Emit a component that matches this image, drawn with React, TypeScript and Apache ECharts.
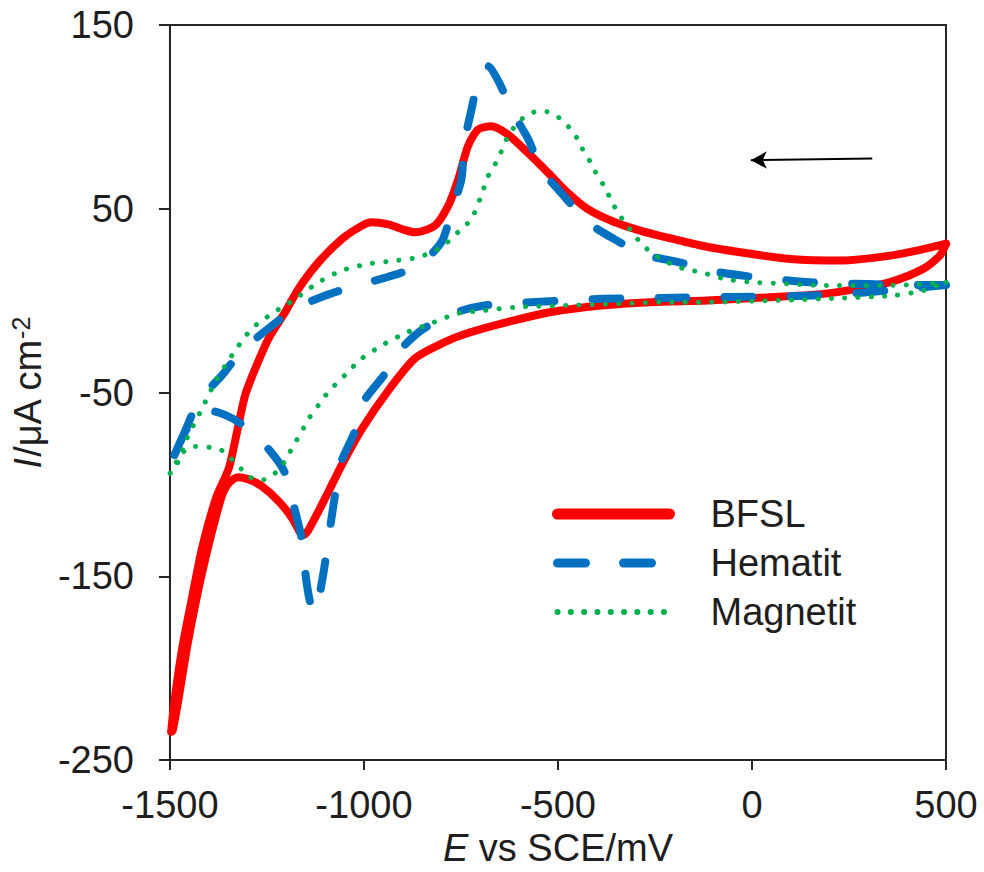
import React, { useEffect, useRef } from 'react';
import * as echarts from 'echarts';

const FONT = '"Liberation Sans", Arial, Helvetica, sans-serif';
const INK = '#1e1e1e';

const X_TICKS = [-1500, -1000, -500, 0, 500];
const Y_TICKS = [-250, -150, -50, 50, 150];

const SERIES_NAMES = ['BFSL', 'Hematit', 'Magnetit'];
const SERIES_COLORS = ['#ff0000', '#0070c0', '#00b050'];

// BFSL: scan from +500 towards -1500 (upper branch), then back (lower branch)
const BFSL_FORWARD = [
  [500, 31], [441, 28], [356, 24.5], [227, 21.8], [99, 22.7], [-30, 26.3], [-132, 30],
  [-218, 34.3], [-286, 38], [-355, 42.8], [-423, 49.8], [-475, 58.8], [-526, 69.7],
  [-578, 80.5], [-629, 90.4], [-672, 94.9], [-706, 93.1], [-732, 84.1], [-757, 66],
  [-783, 51.6], [-818, 40.7], [-869, 37.2], [-903, 39], [-937, 41.5], [-980, 42.6],
  [-1006, 40.7], [-1057, 33.5], [-1117, 20.9], [-1169, 6.4], [-1203, -6.2], [-1246, -20.6],
  [-1280, -36.9], [-1306, -51.3], [-1327, -71.2], [-1348, -91], [-1381, -107.3],
  [-1417, -134.4], [-1443, -161.5], [-1468, -188.6], [-1487, -215.6], [-1497, -234.6],
];
const BFSL_RETURN = [
  [-1493, -234], [-1477, -215.6], [-1456, -188.6], [-1431, -161.5], [-1402, -134.4],
  [-1368, -107.3], [-1355, -101], [-1338, -97.3], [-1323, -96.1], [-1295, -97.5],
  [-1263, -101], [-1220, -109.1], [-1186, -118.1], [-1164, -126.3], [-1155, -127.5],
  [-1126, -118.1], [-1091, -103.7], [-1057, -89.3], [-1006, -70], [-937, -48.8],
  [-869, -31.5], [-809, -24.3], [-749, -18.8], [-646, -12.5], [-518, -6.2], [-389, -2.6],
  [-261, -0.8], [-115, 0.1], [56, 2], [184, 3.7], [270, 6.4], [356, 10.1], [441, 17.3],
  [484, 24.5], [500, 31],
];

const HEMATIT_FORWARD = [
  [500, 8.5], [420, 8.5], [300, 9], [150, 10], [0, 13], [-100, 16], [-190, 21], [-278, 25],
  [-355, 33.5], [-423, 42.6], [-484, 56.8], [-543, 71.5], [-577, 88], [-621, 104],
  [-650, 118], [-680, 127.5], [-705, 120], [-723, 104], [-741, 86], [-749, 66], [-775, 48],
  [-800, 32], [-860, 19], [-937, 13], [-1024, 8], [-1101, 2.7], [-1178, -4.4],
  [-1245, -15], [-1314, -27], [-1366, -40.7], [-1425, -54.2], [-1461, -71], [-1494, -87],
  [-1500, -90],
];
const HEMATIT_RETURN = [
  [-1500, -90], [-1465, -73], [-1430, -62], [-1404, -59.6], [-1360, -62], [-1319, -66.7],
  [-1255, -78.6], [-1206, -92.7], [-1181, -111.6], [-1160, -130], [-1150, -150],
  [-1140, -163], [-1128, -170], [-1118, -164], [-1110, -155], [-1101, -143.6],
  [-1088, -124.6], [-1075, -106.2], [-1062, -89.5], [-1023, -71], [-1000, -54.8],
  [-949, -40.7], [-903, -26], [-846, -15.2], [-757, -6], [-690, -2.6], [-600, -1.2],
  [-385, 1], [-230, 1.5], [-50, 2], [120, 2.5], [290, 4.5], [400, 6.5], [500, 8.5],
];

const MAGNETIT_FORWARD = [
  [500, 10], [399, 8.6], [296, 8.2], [193, 8.2], [90, 9.2], [-4, 10.1], [-73, 12],
  [-132, 15.5], [-175, 17.3], [-218, 20.9], [-261, 26.3], [-295, 33.5], [-321, 40.7],
  [-346, 48], [-364, 55.2], [-381, 62.4], [-398, 67.8], [-415, 75], [-432, 80.5],
  [-449, 87.7], [-466, 93.1], [-492, 98.5], [-518, 102.5], [-552, 103], [-578, 101.3],
  [-603, 96.8], [-629, 89.5], [-655, 76.9], [-680, 67.8], [-698, 57], [-723, 44.4],
  [-749, 39], [-800, 29.3], [-860, 23.6], [-920, 21.8], [-989, 20], [-1057, 16.4],
  [-1117, 10], [-1177, 1], [-1237, -7.1], [-1289, -15.2], [-1340, -29.7], [-1383, -44.1],
  [-1417, -58.6], [-1456, -74.8], [-1486, -91], [-1500, -94],
];
const MAGNETIT_RETURN = [
  [-1500, -94], [-1468, -82.9], [-1443, -79.3], [-1396, -79.9], [-1361, -82],
  [-1340, -86.5], [-1314, -92], [-1289, -96.5], [-1258, -97.4], [-1229, -93.8],
  [-1207, -88.3], [-1190, -82], [-1173, -75.7], [-1156, -69.4], [-1139, -63.1],
  [-1117, -56.8], [-1091, -49.5], [-1049, -40.5], [-1006, -31.5], [-946, -23.4],
  [-886, -17], [-818, -11.6], [-760, -7], [-689, -5.3], [-603, -3.5], [-475, -2.6],
  [-346, -1.7], [-218, -0.8], [-115, -0.8], [56, 0.1], [227, 1.4], [365, 2.8],
  [441, 5.5], [500, 10],
];

// scan-direction arrow (tip, tail) in data coordinates
const ARROW = [[-3, 76.4], [310, 77.3]];

export default function App() {
  const ref = useRef<HTMLDivElement>(null);

  useEffect(() => {
    if (!ref.current) return;
    const chart = echarts.init(ref.current, null, { renderer: 'svg' });

    const labelStyle = { fontSize: 38, fontFamily: FONT, color: INK };
    const plain = (v: number) => String(v);

    const option: any = {
      animation: false,
      backgroundColor: '#ffffff',
      grid: {
        left: 168, right: 38, top: 25, bottom: 109,
        show: true, borderColor: '#262626', borderWidth: 2, backgroundColor: 'transparent',
      },
      legend: {
        orient: 'vertical',
        left: 547,
        top: 490,
        itemWidth: 112,
        itemHeight: 12,
        itemGap: 11,
        selectedMode: false,
        itemStyle: { opacity: 0 },
        textStyle: { fontSize: 38, fontFamily: FONT, color: INK, lineHeight: 38, padding: [0, 0, 0, 36] },
        data: [
          { name: SERIES_NAMES[0], lineStyle: { width: 11 } },
          { name: SERIES_NAMES[1], lineStyle: { width: 9 } },
          { name: SERIES_NAMES[2], lineStyle: { width: 6 } },
        ],
      },
      xAxis: {
        type: 'value',
        min: X_TICKS[0],
        max: X_TICKS[X_TICKS.length - 1],
        interval: 500,
        splitLine: { show: false },
        axisLine: { show: true, onZero: false, lineStyle: { color: '#262626', width: 2 } },
        axisTick: { show: true, inside: false, length: 10, lineStyle: { color: '#262626', width: 2 } },
        axisLabel: { ...labelStyle, margin: 26, showMinLabel: true, showMaxLabel: true, formatter: plain },
        name: '{i|E}{n| vs SCE/mV}',
        nameLocation: 'middle',
        nameGap: 66,
        nameTextStyle: {
          rich: {
            i: { ...labelStyle, fontStyle: 'italic' },
            n: { ...labelStyle },
          },
        },
      },
      yAxis: {
        type: 'value',
        min: Y_TICKS[0],
        max: Y_TICKS[Y_TICKS.length - 1],
        splitLine: { show: false },
        axisLine: { show: true, onZero: false, lineStyle: { color: '#262626', width: 2 } },
        axisTick: {
          show: true, inside: false, length: 11, customValues: Y_TICKS,
          lineStyle: { color: '#262626', width: 2 },
        },
        axisLabel: {
          ...labelStyle, margin: 36, customValues: Y_TICKS,
          showMinLabel: true, showMaxLabel: true, formatter: plain,
        },
        name: '{i|I}{n|/μA cm}{s|-2}',
        nameLocation: 'middle',
        nameRotate: 90,
        nameGap: 101,
        nameTextStyle: {
          rich: {
            i: { ...labelStyle, fontStyle: 'italic', lineHeight: 40 },
            n: { ...labelStyle, lineHeight: 40 },
            s: { fontSize: 25, fontFamily: FONT, color: INK, verticalAlign: 'top', lineHeight: 25 },
          },
        },
      },
      series: [
        {
          name: SERIES_NAMES[0],
          type: 'line',
          data: [...BFSL_FORWARD, ...BFSL_RETURN],
          symbol: 'none',
          smooth: 0.25,
          color: SERIES_COLORS[0],
          lineStyle: { color: SERIES_COLORS[0], width: 8, cap: 'round', join: 'round' },
          z: 2,
          markLine: {
            silent: true,
            symbol: ['arrow', 'none'],
            symbolSize: [13, 16],
            label: { show: false },
            lineStyle: { color: '#000000', width: 2, type: 'solid' },
            data: [[{ coord: ARROW[0] }, { coord: ARROW[1] }]],
          },
        },
        {
          name: SERIES_NAMES[1],
          type: 'line',
          data: [...HEMATIT_FORWARD, ...HEMATIT_RETURN],
          symbol: 'none',
          smooth: 0.25,
          color: SERIES_COLORS[1],
          lineStyle: { color: SERIES_COLORS[1], width: 8, type: [28, 38], cap: 'round', join: 'round' },
          z: 3,
        },
        {
          name: SERIES_NAMES[2],
          type: 'line',
          data: [...MAGNETIT_FORWARD, ...MAGNETIT_RETURN],
          symbol: 'none',
          smooth: 0.25,
          color: SERIES_COLORS[2],
          lineStyle: { color: SERIES_COLORS[2], width: 5, type: [0.1, 13.2], cap: 'round', join: 'round' },
          z: 4,
        },
      ],
    };

    chart.setOption(option);
    return () => chart.dispose();
  }, []);

  return (
    <div
      ref={ref}
      style={{ position: 'fixed', left: 0, top: 0, width: 984, height: 872, background: '#fff' }}
    />
  );
}
